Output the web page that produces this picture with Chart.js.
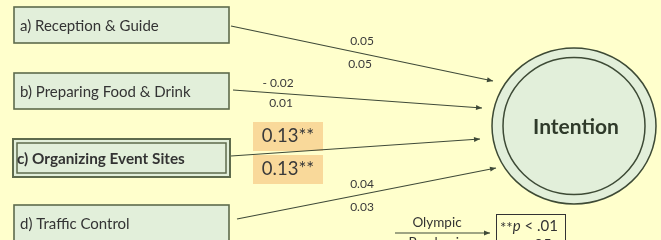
<!DOCTYPE html>
<html>
<head>
<meta charset="utf-8">
<script src="https://cdn.jsdelivr.net/npm/chart.js@4.4.1/dist/chart.umd.min.js"></script>
<style>
  html, body { margin: 0; padding: 0; background: #FFFFCC; }
  #wrap { width: 661px; height: 240px; }
</style>
</head>
<body>
<div id="wrap"><canvas id="pathChart"></canvas></div>
<script>
// path model: 4 volunteer roles -> intention, coefficients for Olympic / Paralympic
const factors = ['a) Reception & Guide', 'b) Preparing Food & Drink', 'c) Organizing Event Sites', 'd) Traffic Control'];
const olympic = [0.05, -0.02, 0.13, 0.04];
const paralympic = [0.05, 0.01, 0.13, 0.03];
const signif = ['', '', '**', ''];
const outcome = 'Intention';
const groups = ['Olympic', 'Paralymic'];
const notes = ['**p < .01', '*p < .05'];

// layout in pixel units of the 661x240 canvas
const layout = {
  boxLeft: 14, boxRight: 229, boxTop: [7, 73, 140, 205], boxH: 36,
  from: [[231, 26], [233, 90], [231, 156], [237, 219]],
  to: [[493, 81], [482, 108], [480, 139], [496, 168]],
  lblOly: [[362, 41], [278, 83], [288, 136], [362, 184]],
  lblPara: [[360, 64], [281, 103], [288, 169], [362, 207]],
  circle: { x: 574, y: 126, rx: 82, ry: 78, irx: 71, iry: 68.5 }
};

const FONT = 'Lato, "Open Sans", sans-serif';
const INK = '#3f4a38';

function fmt(v) {
  return (v < 0 ? '- ' : '') + Math.abs(v).toFixed(2);
}

const datasets = factors.map((f, i) => ({
  label: f,
  data: [{ x: layout.from[i][0], y: layout.from[i][1] }, { x: layout.to[i][0], y: layout.to[i][1] }],
  showLine: true,
  borderColor: INK,
  borderWidth: 1.2,
  pointRadius: 0,
  clip: false
}));
// small legend arrow for Olympic/Paralympic
datasets.push({
  label: 'key',
  data: [{ x: 395, y: 233 }, { x: 490, y: 233 }],
  showLine: true, borderColor: INK, borderWidth: 1.2, pointRadius: 0, clip: false
});

const diagram = {
  id: 'diagram',
  beforeDatasetsDraw(chart) {
    const { ctx, scales: { x, y } } = chart;
    const X = v => x.getPixelForValue(v), Y = v => y.getPixelForValue(v);
    ctx.save();
    // predictor boxes
    factors.forEach((f, i) => {
      const l = X(layout.boxLeft), r = X(layout.boxRight);
      const t = Y(layout.boxTop[i]), b = Y(layout.boxTop[i] + layout.boxH);
      ctx.fillStyle = '#E2EFDA';
      ctx.fillRect(l, t, r - l, b - t);
      ctx.strokeStyle = '#5E6B4C';
      if (signif[i]) {
        ctx.lineWidth = 2;
        ctx.strokeRect(l - 1, t - 1, r - l + 2, b - t + 2);
        ctx.lineWidth = 1.5;
        ctx.strokeRect(l + 3, t + 3, r - l - 6, b - t - 6);
      } else {
        ctx.lineWidth = 1.6;
        ctx.strokeRect(l, t, r - l, b - t);
      }
      ctx.fillStyle = '#333';
      ctx.font = (signif[i] ? 'bold 15.3px ' : '15px ') + FONT;
      ctx.textBaseline = 'middle';
      ctx.textAlign = 'left';
      ctx.fillText(f, l + (signif[i] ? 3 : 6), (t + b) / 2 + 1);
    });
    // outcome circle
    const c = layout.circle;
    ctx.fillStyle = '#E2EFDA';
    ctx.strokeStyle = '#3d4a35';
    ctx.lineWidth = 1.5;
    ctx.beginPath();
    ctx.ellipse(X(c.x), Y(c.y), c.rx, c.ry, 0, 0, Math.PI * 2);
    ctx.fill(); ctx.stroke();
    ctx.beginPath();
    ctx.ellipse(X(c.x), Y(c.y), c.irx, c.iry, 0, 0, Math.PI * 2);
    ctx.stroke();
    ctx.fillStyle = '#2f3a2a';
    ctx.font = 'bold 21px ' + FONT;
    ctx.textAlign = 'center';
    ctx.fillText(outcome, X(c.x) + 2, Y(c.y) + 1);
    // highlight behind significant coefficients
    signif.forEach((s, i) => {
      if (!s) return;
      ctx.fillStyle = '#F9D99A';
      [layout.lblOly[i], layout.lblPara[i]].forEach(p => {
        ctx.fillRect(X(p[0]) - 35, Y(p[1]) - 14, 70, 29);
      });
    });
    // significance key
    ctx.strokeStyle = '#333';
    ctx.lineWidth = 1;
    ctx.strokeRect(496.5, 214.5, 69, 40);
    ctx.restore();
  },
  afterDatasetsDraw(chart) {
    const { ctx, scales: { x, y } } = chart;
    const X = v => x.getPixelForValue(v), Y = v => y.getPixelForValue(v);
    ctx.save();
    // arrowheads
    chart.data.datasets.forEach(ds => {
      const [p0, p1] = ds.data;
      const x0 = X(p0.x), y0 = Y(p0.y), x1 = X(p1.x), y1 = Y(p1.y);
      const a = Math.atan2(y1 - y0, x1 - x0);
      ctx.fillStyle = INK;
      ctx.beginPath();
      ctx.moveTo(x1, y1);
      ctx.lineTo(x1 - 6 * Math.cos(a) + 2.5 * Math.sin(a), y1 - 6 * Math.sin(a) - 2.5 * Math.cos(a));
      ctx.lineTo(x1 - 6 * Math.cos(a) - 2.5 * Math.sin(a), y1 - 6 * Math.sin(a) + 2.5 * Math.cos(a));
      ctx.closePath();
      ctx.fill();
    });
    // coefficient labels
    ctx.textAlign = 'center';
    ctx.textBaseline = 'middle';
    factors.forEach((f, i) => {
      const big = !!signif[i];
      ctx.fillStyle = '#3a3a3a';
      ctx.font = (big ? '18.5px ' : '12px ') + FONT;
      ctx.fillText(fmt(olympic[i]) + signif[i], X(layout.lblOly[i][0]), Y(layout.lblOly[i][1]));
      ctx.fillText(fmt(paralympic[i]) + signif[i], X(layout.lblPara[i][0]), Y(layout.lblPara[i][1]));
    });
    // group key
    ctx.font = '13.5px ' + FONT;
    ctx.fillStyle = '#333';
    ctx.fillText(groups[0], X(437), Y(223));
    ctx.fillText(groups[1], X(437), Y(243));
    // p-value notes, p in italics
    ctx.textAlign = 'left';
    notes.forEach((n, k) => {
      const yy = Y(226 + k * 19);
      let xx = X(500);
      const stars = n.slice(0, n.indexOf('p'));
      const rest = n.slice(n.indexOf('p') + 1);
      ctx.font = '15px ' + FONT;
      ctx.fillText(stars, xx, yy + 2); xx += ctx.measureText(stars).width;
      ctx.font = 'italic 15px ' + FONT;
      ctx.fillText('p', xx, yy); xx += ctx.measureText('p').width;
      ctx.font = '15px ' + FONT;
      ctx.fillText(rest, xx, yy);
    });
    ctx.restore();
  }
};

new Chart(document.getElementById('pathChart'), {
  type: 'scatter',
  data: { datasets },
  options: {
    responsive: true,
    maintainAspectRatio: false,
    animation: false,
    layout: { padding: 0 },
    scales: {
      x: { type: 'linear', min: 0, max: 661, display: false },
      y: { type: 'linear', min: 0, max: 240, reverse: true, display: false }
    },
    plugins: { legend: { display: false }, tooltip: { enabled: false } }
  },
  plugins: [diagram]
});
</script>
</body>
</html>
